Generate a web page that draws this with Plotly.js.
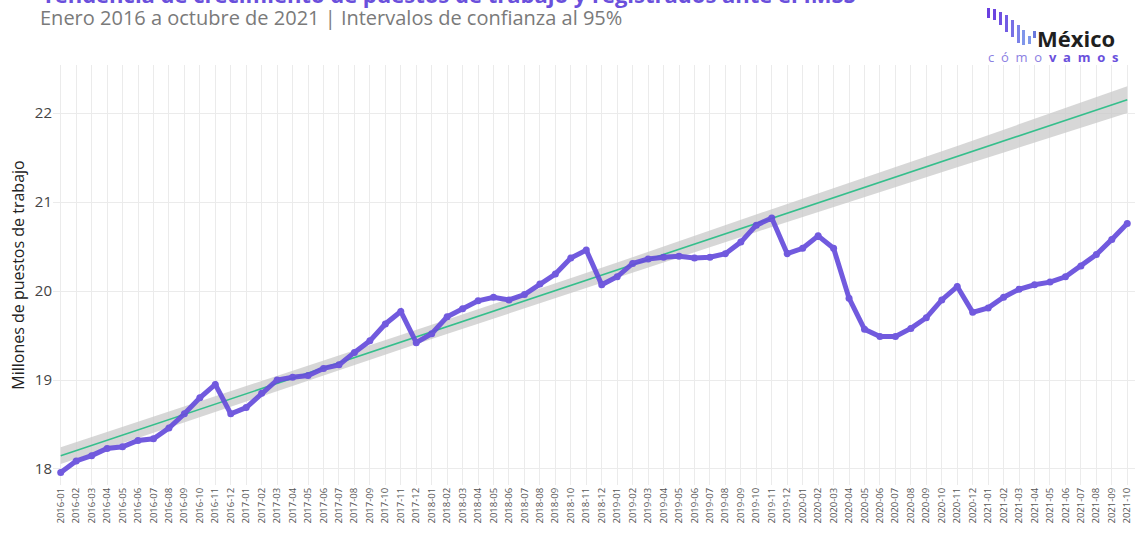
<!DOCTYPE html>
<html>
<head>
<meta charset="utf-8">
<script src="https://cdn.plot.ly/plotly-3.0.1.min.js"></script>
<style>html,body{margin:0;padding:0;background:#fff;}#chart{width:1136px;height:537px;}</style>
</head>
<body>
<div id="chart"></div>
<script>
// ---- data ----
var meses = ["2016-01","2016-02","2016-03","2016-04","2016-05","2016-06","2016-07","2016-08","2016-09","2016-10","2016-11","2016-12",
"2017-01","2017-02","2017-03","2017-04","2017-05","2017-06","2017-07","2017-08","2017-09","2017-10","2017-11","2017-12",
"2018-01","2018-02","2018-03","2018-04","2018-05","2018-06","2018-07","2018-08","2018-09","2018-10","2018-11","2018-12",
"2019-01","2019-02","2019-03","2019-04","2019-05","2019-06","2019-07","2019-08","2019-09","2019-10","2019-11","2019-12",
"2020-01","2020-02","2020-03","2020-04","2020-05","2020-06","2020-07","2020-08","2020-09","2020-10","2020-11","2020-12",
"2021-01","2021-02","2021-03","2021-04","2021-05","2021-06","2021-07","2021-08","2021-09","2021-10"];

var puestos = [17.96,18.09,18.15,18.23,18.25,18.32,18.34,18.46,18.62,18.80,18.95,18.62,
18.69,18.85,19.00,19.03,19.05,19.13,19.17,19.31,19.44,19.63,19.77,19.42,
19.52,19.71,19.80,19.89,19.93,19.90,19.96,20.08,20.19,20.37,20.46,20.07,
20.16,20.31,20.36,20.38,20.39,20.37,20.38,20.42,20.55,20.74,20.82,20.42,
20.48,20.62,20.48,19.92,19.57,19.49,19.49,19.58,19.70,19.90,20.05,19.76,
19.81,19.93,20.02,20.07,20.10,20.16,20.28,20.41,20.58,20.76];

var tendenciaX = ["2016-01","2021-10"];
var tendenciaY = [18.15,22.15];

var bandaX = ["2016-01","2017-01","2018-01","2019-01","2019-11","2020-11","2021-10"];
var bandaSup = [18.245,18.93,19.62,20.32,20.92,21.63,22.30];
var bandaInf = [18.055,18.76,19.46,20.15,20.72,21.39,22.00];

var yTicks = [18,19,20,21,22];

// ---- pixel helpers for decoration ----
var L = 53, R = 1, T = 65, B = 52, W = 1136, H = 537;
function px(x){ return (x - L) / (W - L - R); }
function py(y){ return (H - B - y) / (H - T - B); }

var traces = [
  {x: bandaX, y: bandaSup, type: 'scatter', mode: 'lines', line: {width: 0, color: 'rgba(0,0,0,0)'}, hoverinfo: 'skip', showlegend: false},
  {x: bandaX, y: bandaInf, type: 'scatter', mode: 'lines', line: {width: 0, color: 'rgba(0,0,0,0)'}, fill: 'tonexty', fillcolor: 'rgba(200,200,200,0.72)', hoverinfo: 'skip', showlegend: false},
  {x: tendenciaX, y: tendenciaY, type: 'scatter', mode: 'lines', line: {color: '#35bf8c', width: 1.6}, showlegend: false},
  {x: meses, y: puestos, type: 'scatter', mode: 'lines+markers', line: {color: '#664ddc', width: 5}, marker: {color: '#664ddc', size: 7}, opacity: 0.92, showlegend: false}
];

// logo bars
var bars = [
  [987,990,8,18,'#6a3fe0'],[993,996,9,20,'#6c45e0'],[999,1002,12,25,'#6f50e2'],[1005,1008,15,32,'#725ce4'],
  [1011,1014,20,37,'#7770e6'],[1017,1020,25,43,'#7c82e8'],[1022,1025,30,45,'#8096ea'],[1028,1031,36,44,'#7f98ea'],[1033,1036,31,38,'#6a78dc']
];
var shapes = bars.map(function(b){
  return {type: 'rect', xref: 'paper', yref: 'paper', x0: px(b[0]), x1: px(b[1]), y0: py(b[3]), y1: py(b[2]), fillcolor: b[4], line: {width: 0}, layer: 'above'};
});

var nb = '\u00a0';
function spaced(s){ return s.split('').join(nb + nb); }

var annotations = [
  {text: '<b>Tendencia de crecimiento de puestos de trabajo y registrados ante el IMSS</b>', xref: 'paper', yref: 'paper', x: px(40), y: py(11), xanchor: 'left', yanchor: 'bottom', showarrow: false, font: {family: 'Open Sans', size: 22, color: '#6a50dc'}},
  {text: 'Enero 2016 a octubre de 2021 | Intervalos de confianza al 95%', xref: 'paper', yref: 'paper', x: px(38), y: py(18), xanchor: 'left', yanchor: 'middle', showarrow: false, font: {family: 'Open Sans', size: 20, color: '#7a7a7a'}},
  {text: '<b>México</b>', xref: 'paper', yref: 'paper', x: px(1035), y: py(38), xanchor: 'left', yanchor: 'middle', showarrow: false, font: {family: 'Open Sans', size: 22, color: '#1f1f1f'}},
  {text: '<span style="color:#8b80e2">' + spaced('cómo') + nb + nb + '</span><span style="color:#6a50dc"><b>' + spaced('vamos') + '</b></span>', xref: 'paper', yref: 'paper', x: px(986), y: py(57), xanchor: 'left', yanchor: 'middle', showarrow: false, font: {family: 'Open Sans', size: 13, color: '#6a50dc'}}
];

var layout = {
  width: W, height: H,
  margin: {l: L, r: R, t: T, b: B, pad: 0},
  paper_bgcolor: '#ffffff', plot_bgcolor: '#ffffff',
  font: {family: 'Open Sans', color: '#444'},
  showlegend: false,
  xaxis: {type: 'category', categoryorder: 'array', categoryarray: meses, range: [-0.5, 69.5], tickangle: -90, tickfont: {size: 9.5, color: '#555'},
          showgrid: true, gridcolor: '#ebebeb', gridwidth: 1, zeroline: false, showline: false, ticks: '', fixedrange: true, automargin: false},
  yaxis: {range: [17.82, 22.54], tickvals: yTicks, tickfont: {size: 15, color: '#444'}, showgrid: true, gridcolor: '#ebebeb', gridwidth: 1,
          zeroline: false, showline: false, ticks: '', automargin: false,
          title: {text: 'Millones de puestos de trabajo', font: {size: 16, color: '#222'}, standoff: 6}},
  shapes: shapes,
  annotations: annotations
};

Plotly.newPlot('chart', traces, layout, {displayModeBar: false, staticPlot: true});
</script>
</body>
</html>
